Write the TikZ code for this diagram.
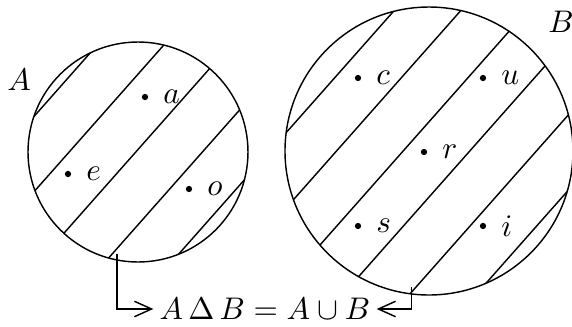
\documentclass[tikz,border=0pt]{standalone}
\usetikzlibrary{arrows.meta}
\tikzset{
    set/.style={circle, draw, inner sep=0pt},
    elem/.style={circle, fill, inner sep=0pt, minimum size=2.2pt},
    elemlabel/.style={label distance=1.5pt},
}
\begin{document}
\begin{tikzpicture}[x=0.35pt, y=0.35pt, line width=0.5pt,
    font=\fontsize{11.2}{13.5}\selectfont,
    >={Straight Barb[length=6pt,width=5.4pt]}]
    \useasboundingbox (0,0) rectangle (572,326);
    % the two sets
    \node[set, minimum size=77pt] (A) at (138,174) {};
    \node[set, minimum size=100.8pt] (B) at (429,175) {};
    \node (labA) at (19,246) {$A$};
    \node (labB) at (561,304) {$B$};
    % hatching of both sets
    \begin{scope}
        \clip (A.center) circle (110) (B.center) circle (144);
        \foreach \k in {0,...,9}
            \draw[rotate=-41.5] ({-113.4+49.9*\k},-600) -- ({-113.4+49.9*\k},600);
    \end{scope}
    % elements
    \node[elem, label={[elemlabel]right:$a$}] (a) at (145,229) {};
    \node[elem, label={[elemlabel]right:$e$}] (e) at (68,152) {};
    \node[elem, label={[elemlabel]right:$o$}] (o) at (189,137) {};
    \node[elem, label={[elemlabel]right:$c$}] (c) at (358,248) {};
    \node[elem, label={[elemlabel]right:$u$}] (u) at (483,248) {};
    \node[elem, label={[elemlabel]right:$r$}] (r) at (424,174) {};
    \node[elem, label={[elemlabel]right:$s$}] (s) at (358,100) {};
    \node[elem, label={[elemlabel]right:$i$}] (i) at (483,100) {};
    % result
    \node[inner sep=2pt] (eq) at (265,17) {$A\,\Delta\,B=A\cup B$};
    \draw[->, shorten <=-2.5pt] (A.259.5) |- (eq.west);
    \draw[->, shorten <=-2.5pt] (B.263.6) |- (eq.east);
\end{tikzpicture}
\end{document}
